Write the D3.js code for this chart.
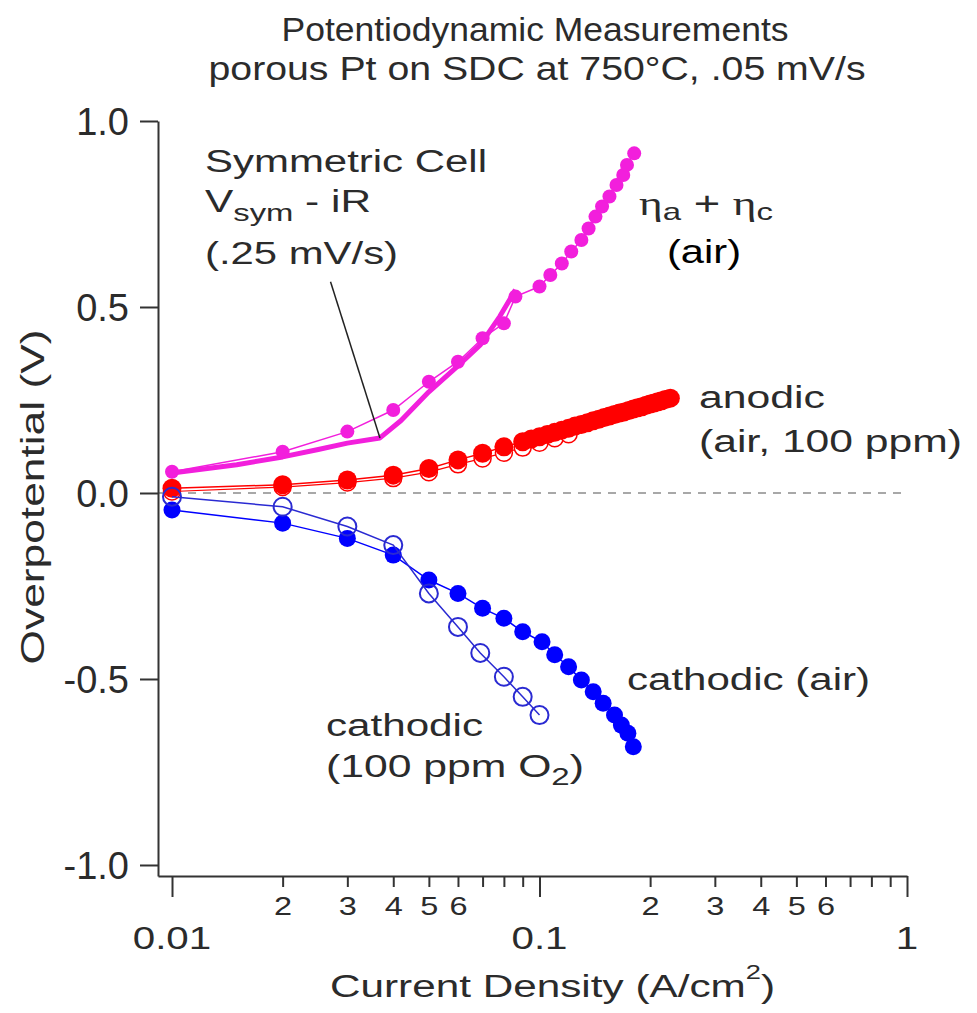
<!DOCTYPE html>
<html>
<head>
<meta charset="utf-8">
<title>Potentiodynamic Measurements</title>
<script src="https://d3js.org/d3.v7.min.js"></script>
<style>
  body { margin: 0; background: white; }
  svg text { font-family: "Liberation Sans", Arial, Helvetica, sans-serif; fill: #2b2b2b; }
</style>
</head>
<body>
<div id="chart"></div>
<script>
// eta_a + eta_c (air), filled magenta
const magX = [0.01, 0.02, 0.03, 0.04, 0.05, 0.06, 0.07, 0.08, 0.086, 0.1, 0.107, 0.115, 0.122, 0.13, 0.136, 0.142, 0.148, 0.155, 0.162, 0.169, 0.173, 0.181];
const magY = [0.057, 0.111, 0.165, 0.223, 0.299, 0.353, 0.416, 0.456, 0.528, 0.555, 0.586, 0.617, 0.649, 0.680, 0.711, 0.743, 0.770, 0.797, 0.828, 0.855, 0.882, 0.913];

// symmetric cell Vsym - iR (.25 mV/s), thick magenta line
const symX = [0.01, 0.015, 0.02, 0.025, 0.03, 0.0368, 0.042, 0.05, 0.06, 0.069, 0.078, 0.086];
const symY = [0.054, 0.076, 0.097, 0.117, 0.134, 0.148, 0.195, 0.272, 0.342, 0.398, 0.475, 0.546];

// anodic, filled red
const anFillX = [0.01, 0.02, 0.03, 0.04, 0.05, 0.06, 0.07, 0.08, 0.09, 0.095, 0.1, 0.105, 0.11, 0.115, 0.12, 0.125, 0.13, 0.135, 0.14, 0.145, 0.15, 0.155, 0.16, 0.165, 0.17, 0.175, 0.18, 0.185, 0.19, 0.195, 0.2, 0.205, 0.21, 0.215, 0.22, 0.227];
const anFillY = [0.013, 0.022, 0.035, 0.048, 0.066, 0.089, 0.107, 0.124, 0.138, 0.145, 0.151, 0.157, 0.163, 0.169, 0.174, 0.180, 0.184, 0.189, 0.194, 0.198, 0.203, 0.207, 0.211, 0.215, 0.218, 0.222, 0.226, 0.229, 0.232, 0.236, 0.239, 0.242, 0.245, 0.248, 0.251, 0.255];

// anodic, open red
const anOpenX = [0.01, 0.02, 0.03, 0.04, 0.05, 0.06, 0.07, 0.08, 0.09, 0.1, 0.11, 0.12];
const anOpenY = [0.004, 0.016, 0.028, 0.040, 0.056, 0.077, 0.093, 0.108, 0.122, 0.135, 0.147, 0.158];

// cathodic (air), filled blue
const catAirX = [0.01, 0.02, 0.03, 0.04, 0.05, 0.06, 0.07, 0.08, 0.09, 0.1016, 0.11, 0.12, 0.13, 0.14, 0.149, 0.16, 0.167, 0.174, 0.18];
const catAirY = [-0.046, -0.081, -0.122, -0.167, -0.234, -0.27, -0.31, -0.337, -0.373, -0.40, -0.435, -0.467, -0.503, -0.534, -0.565, -0.597, -0.624, -0.646, -0.682];

// cathodic (100 ppm O2), open blue
const catO2X = [0.01, 0.02, 0.03, 0.04, 0.05, 0.06, 0.069, 0.08, 0.09, 0.1];
const catO2Y = [-0.01, -0.037, -0.09, -0.14, -0.27, -0.36, -0.43, -0.494, -0.548, -0.597];

const xTicks = [0.01, 0.02, 0.03, 0.04, 0.05, 0.06, 0.07, 0.08, 0.09, 0.1, 0.2, 0.3, 0.4, 0.5, 0.6, 0.7, 0.8, 0.9, 1];
const xMajor = [0.01, 0.1, 1];
const xMajorLabels = ["0.01", "0.1", "1"];
const yTicks = [-1, -0.5, 0, 0.5, 1];

const W = 977, H = 1013;
const svg = d3.select("#chart").append("svg").attr("width", W).attr("height", H);

const x = d3.scaleLog().domain([0.00916, 1]).range([158, 907]);
const y = d3.scaleLinear().domain([-1.0296, 1]).range([876, 121]);

// stretch text to a given width
function fit(sel, w) {
    sel.attr("textLength", w).attr("lengthAdjust", "spacingAndGlyphs");
}
function stretch(sel, k) {
    sel.each(function() {
        const len = this.getComputedTextLength();
        d3.select(this).attr("textLength", len * k).attr("lengthAdjust", "spacingAndGlyphs");
    });
}

// zero line
svg.append("line")
    .attr("x1", x.range()[0]).attr("x2", x.range()[1])
    .attr("y1", y(0)).attr("y2", y(0))
    .style("stroke", "#8c8c8c").style("stroke-width", 1.5)
    .style("stroke-dasharray", "8,7");

// axes
const ax = svg.append("g").attr("transform", "translate(0," + y.range()[0] + ")")
    .call(d3.axisBottom(x).tickValues(xTicks).tickSize(11).tickSizeOuter(0)
        .tickFormat(d => {
            const m = Math.round(d / Math.pow(10, Math.floor(Math.log10(d) + 1e-9)));
            return (m >= 2 && m <= 6) ? String(m) : "";
        }));
ax.select(".domain").style("stroke", "#333").style("stroke-width", 2);
ax.selectAll(".tick line").style("stroke", "#333").style("stroke-width", 2)
    .attr("y2", d => xMajor.includes(d) ? 21 : 11);
ax.selectAll(".tick text")
    .attr("y", 39).attr("dy", 0)
    .style("font-size", "25px").style("fill", "#2b2b2b")
    .call(stretch, 1.3);

svg.append("g").selectAll("text").data(xMajor).join("text")
    .attr("x", d => x(d)).attr("y", 949)
    .attr("text-anchor", "middle")
    .style("font-size", "31px")
    .text((d, i) => xMajorLabels[i])
    .call(stretch, 1.3);

const ay = svg.append("g").attr("transform", "translate(" + x.range()[0] + ",0)")
    .call(d3.axisLeft(y).tickValues(yTicks).tickSize(18).tickSizeOuter(0).tickPadding(11)
        .tickFormat(d => d.toFixed(1)));
ay.select(".domain").style("stroke", "#333").style("stroke-width", 2);
ay.selectAll(".tick line").style("stroke", "#333").style("stroke-width", 2);
ay.selectAll(".tick text").style("font-size", "38px").style("fill", "#2b2b2b")
    .attr("dy", "0.36em");

// titles
svg.append("text").attr("x", 535).attr("y", 41).attr("text-anchor", "middle")
    .style("font-size", "34px").text("Potentiodynamic Measurements").call(fit, 507);
svg.append("text").attr("x", 537).attr("y", 80).attr("text-anchor", "middle")
    .style("font-size", "34px").text("porous Pt on SDC at 750°C, .05 mV/s").call(fit, 657);

svg.append("text")
    .attr("transform", "translate(44,497) rotate(-90)")
    .attr("text-anchor", "middle")
    .style("font-size", "33px").text("Overpotential (V)").call(fit, 335);

const xt = svg.append("text").attr("x", 330).attr("y", 997).style("font-size", "31px");
xt.append("tspan").text("Current Density (A/cm");
xt.append("tspan").attr("dy", -18).style("font-size", "20px").text("2");
xt.append("tspan").attr("dy", 18).text(")");
xt.call(fit, 445);

// line generator
const line = d3.line().x(d => x(d[0])).y(d => y(d[1]));
const pairs = (xs, ys) => xs.map((v, i) => [v, ys[i]]);

const magenta = "#f21fdc", red = "#ff0000", blue = "#0000ff", blueOpen = "#2a2ad2";

// symmetric cell thick line
svg.append("path").datum(pairs(symX, symY)).attr("d", line)
    .style("fill", "none").style("stroke", magenta).style("stroke-width", 5)
    .style("stroke-linejoin", "round");

// magenta dots
svg.append("path").datum(pairs(magX, magY)).attr("d", line)
    .style("fill", "none").style("stroke", magenta).style("stroke-width", 1.5);
svg.append("g").selectAll("circle").data(pairs(magX, magY)).join("circle")
    .attr("cx", d => x(d[0])).attr("cy", d => y(d[1])).attr("r", 7)
    .style("fill", magenta);

// anodic open + filled
svg.append("path").datum(pairs(anOpenX, anOpenY)).attr("d", line)
    .style("fill", "none").style("stroke", red).style("stroke-width", 1.2);
svg.append("g").selectAll("circle").data(pairs(anOpenX, anOpenY)).join("circle")
    .attr("cx", d => x(d[0])).attr("cy", d => y(d[1])).attr("r", 8.5)
    .style("fill", "white").style("stroke", red).style("stroke-width", 1.5);
svg.append("path").datum(pairs(anFillX, anFillY)).attr("d", line)
    .style("fill", "none").style("stroke", red).style("stroke-width", 1.5);
svg.append("g").selectAll("circle").data(pairs(anFillX, anFillY)).join("circle")
    .attr("cx", d => x(d[0])).attr("cy", d => y(d[1])).attr("r", 9.5)
    .style("fill", red);

// cathodic filled
svg.append("path").datum(pairs(catAirX, catAirY)).attr("d", line)
    .style("fill", "none").style("stroke", blue).style("stroke-width", 1.5);
svg.append("g").selectAll("circle").data(pairs(catAirX, catAirY)).join("circle")
    .attr("cx", d => x(d[0])).attr("cy", d => y(d[1])).attr("r", 8.5)
    .style("fill", blue);

// cathodic open
svg.append("path").datum(pairs(catO2X, catO2Y)).attr("d", line)
    .style("fill", "none").style("stroke", blueOpen).style("stroke-width", 1.5);
svg.append("g").selectAll("circle").data(pairs(catO2X, catO2Y)).join("circle")
    .attr("cx", d => x(d[0])).attr("cy", d => y(d[1])).attr("r", 9)
    .style("fill", "none").style("stroke", blueOpen).style("stroke-width", 2);

// annotation leader line
svg.append("line")
    .attr("x1", x(0.027)).attr("y1", y(0.568))
    .attr("x2", x(0.0368)).attr("y2", y(0.148))
    .style("stroke", "#222").style("stroke-width", 1.5);

// labels
function label(px, py, size, str, w, color) {
    const t = svg.append("text").attr("x", px).attr("y", py).style("font-size", size + "px").text(str);
    if (color) t.style("fill", color);
    if (w) t.call(fit, w);
    return t;
}
label(205, 172, 31, "Symmetric Cell", 282);
const vs = svg.append("text").attr("x", 205).attr("y", 212).style("font-size", "31px");
vs.append("tspan").text("V");
vs.append("tspan").attr("dy", 9).style("font-size", "24px").text("sym");
vs.append("tspan").attr("dy", -9).text(" - iR");
vs.call(fit, 166);
label(205, 264, 31, "(.25 mV/s)", 193);

const eta = svg.append("text").attr("x", 639).attr("y", 215).style("font-size", "33px");
eta.append("tspan").style("font-family", "'Liberation Serif', serif").text("\u03b7");
eta.append("tspan").attr("dy", 5).style("font-size", "24px").text("a");
eta.append("tspan").attr("dy", -5).text(" + ");
eta.append("tspan").style("font-family", "'Liberation Serif', serif").text("\u03b7");
eta.append("tspan").attr("dy", 5).style("font-size", "24px").text("c");
eta.call(fit, 134);
label(667, 263, 34, "(air)", 74, "#000");

label(699, 408, 31, "anodic", 126);
label(699, 452, 31, "(air, 100 ppm)", 263);
label(627, 690, 31, "cathodic (air)", 243);
label(326, 736, 31, "cathodic", 157);
const o2 = svg.append("text").attr("x", 326).attr("y", 777).style("font-size", "31px");
o2.append("tspan").text("(100 ppm O");
o2.append("tspan").attr("dy", 8).style("font-size", "24px").text("2");
o2.append("tspan").attr("dy", -8).text(")");
o2.call(fit, 258);
</script>
</body>
</html>
